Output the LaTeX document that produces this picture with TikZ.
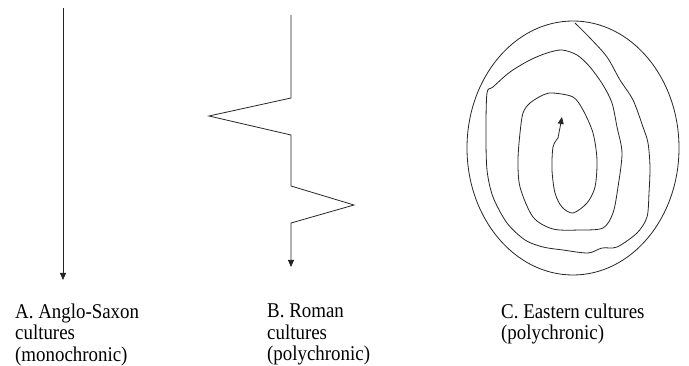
\documentclass[tikz,border=0pt]{standalone}
\usepackage{fontspec}
\setmainfont{Liberation Serif}[FakeStretch=0.9]
\usetikzlibrary{arrows.meta,shapes.geometric}
\begin{document}
\begin{tikzpicture}[x=1pt,y=-1pt,
  line/.style={line width=0.8pt,draw=black!85},
  tip/.style={-{Triangle[length=7pt,width=6pt]}},
  label/.style={anchor=north west,inner sep=0pt,align=left,font=\fontsize{21}{21.5}\selectfont}]
\useasboundingbox (0,0) rectangle (689,366);
% A
\coordinate (a1) at (63,8);
\coordinate (a2) at (63,280);
\draw[line,tip] (a1) -- (a2);
% B
\coordinate (b0) at (291,15);
\coordinate (b1) at (291,98);
\coordinate (b2) at (209,116);
\coordinate (b3) at (291,135);
\coordinate (b4) at (291,186);
\coordinate (b5) at (354,205);
\coordinate (b6) at (291,223);
\coordinate (b7) at (291,267);
\draw[line,tip] (b0) -- (b1) -- (b2) -- (b3) -- (b4) -- (b5) -- (b6) -- (b7);
% C
\node[line,ellipse,minimum width=212pt,minimum height=254pt,inner sep=0pt,draw] (ell) at (573,148) {};
\draw[line] plot[smooth,tension=0.5] coordinates {
 (575,23) (590,38) (607,57) (620,80) (633,100) (643,127) (648,143) (650,167)
 (649,193) (647,217) (637,233) (617,247) (602,248) (588,253) (563,250)
 (543,247) (525,240) (507,223) (493,197) (487,170) (486,133) (487,93)
 (493,87) (510,72) (530,60) (547,53) (562,50) (577,55) (590,67) (603,85)
 (612,103) (617,127) (622,153) (618,187) (613,213) (603,228) (580,230)
 (553,229) (533,217) (520,187) (518,160) (520,133) (523,113) (530,103)
 (543,95) (553,93) (573,97) (583,110) (593,133) (597,160) (595,187)
 (587,203) (573,213) (562,207) (555,193) (552,170) (553,147) (558,138)};
\coordinate (s1) at (558,138);
\coordinate (s2) at (562,117);
\draw[line,tip] (s1) -- (s2);
% labels
\node[label] (la) at (15,303.3) {A. Anglo-Saxon\\cultures\\(monochronic)};
\node[label] (lb) at (267,303.7) {B. Roman\\cultures\\(polychronic)};
\node[label] (lc) at (501,303.3) {C. Eastern cultures\\(polychronic)};
\end{tikzpicture}
\end{document}
